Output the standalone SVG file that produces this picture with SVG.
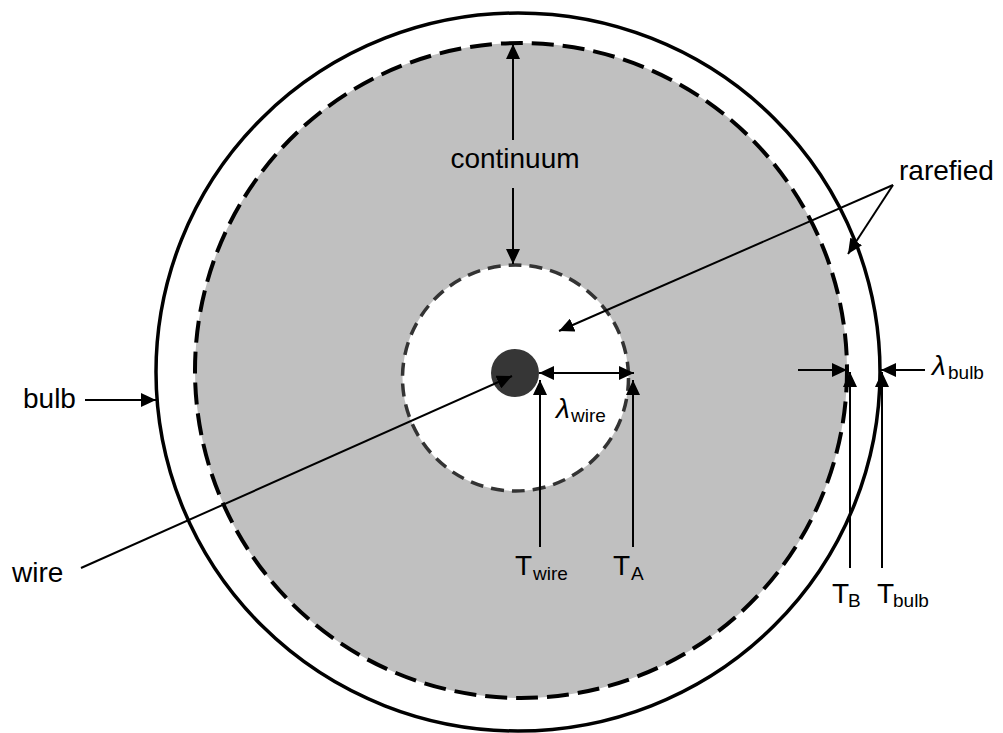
<svg xmlns="http://www.w3.org/2000/svg" width="1003" height="733" viewBox="0 0 1003 733">
<defs>
<style>
text{font-family:"Liberation Sans",Arial,sans-serif;fill:#000}
.lbl{font-size:28px}
.sub{font-size:19px}
.lam{font-style:italic}
.arr{stroke:#000;stroke-width:2;fill:none;marker-end:url(#ah)}
.dbl{stroke:#000;stroke-width:2;fill:none;marker-end:url(#ah);marker-start:url(#ahs)}
</style>
<marker id="ah" markerUnits="userSpaceOnUse" markerWidth="16" markerHeight="14" refX="15" refY="7" orient="auto"><path d="M0,0 L15,7 L0,14 z" fill="#000"/></marker>
<marker id="ahs" markerUnits="userSpaceOnUse" markerWidth="16" markerHeight="14" refX="15" refY="7" orient="auto-start-reverse"><path d="M0,0 L15,7 L0,14 z" fill="#000"/></marker>
</defs>
<rect width="1003" height="733" fill="#fff"/>
<g id="bulb-wall"><ellipse cx="518" cy="372" rx="362" ry="359" fill="#fff" stroke="#000" stroke-width="3.5"/></g>
<g id="continuum-region"><ellipse cx="521" cy="370.5" rx="326" ry="327.5" fill="#c0c0c0" stroke="#000" stroke-width="4" stroke-dasharray="22 9"/></g>
<g id="rarefied-inner"><circle cx="515.5" cy="378" r="113" fill="#fff" stroke="#333" stroke-width="3.5" stroke-dasharray="13 8"/></g>
<g id="wire-node"><circle cx="515" cy="373" r="24" fill="#363636"/></g>
<g id="connectors">
<line class="arr" x1="513" y1="140" x2="513" y2="44"/>
<line class="arr" x1="513" y1="188" x2="513" y2="264"/>
<line class="arr" x1="893" y1="185" x2="559" y2="331"/>
<line class="arr" x1="893" y1="185" x2="848" y2="254"/>
<line class="arr" x1="85" y1="400" x2="156" y2="400"/>
<line class="arr" x1="81" y1="568" x2="512" y2="376"/>
<line class="dbl" x1="539" y1="373" x2="634" y2="373"/>
<line class="arr" x1="540" y1="547" x2="540" y2="380"/>
<line class="arr" x1="633" y1="547" x2="633" y2="380"/>
<line class="arr" x1="850" y1="568" x2="850" y2="372"/>
<line class="arr" x1="882" y1="568" x2="882" y2="372"/>
<line class="arr" x1="798" y1="370" x2="847" y2="370"/>
<line class="arr" x1="925" y1="370" x2="881" y2="370"/>
</g>
<g id="labels">
<text class="lbl" x="515" y="168" text-anchor="middle">continuum</text>
<text class="lbl" x="899" y="180">rarefied</text>
<text class="lbl" x="23" y="408">bulb</text>
<text class="lbl" x="12" y="582">wire</text>
<text class="lbl lam" x="556" y="418">λ</text><text class="sub" x="571" y="422">wire</text>
<text class="lbl" x="515" y="575">T</text><text class="sub" x="533" y="580">wire</text>
<text class="lbl" x="613" y="575">T</text><text class="sub" x="631" y="580">A</text>
<text class="lbl" x="832" y="603">T</text><text class="sub" x="848" y="607">B</text>
<text class="lbl" x="877" y="603">T</text><text class="sub" x="893" y="607">bulb</text>
<text class="lbl lam" x="932" y="375">λ</text><text class="sub" x="948" y="379">bulb</text>
</g>
</svg>
